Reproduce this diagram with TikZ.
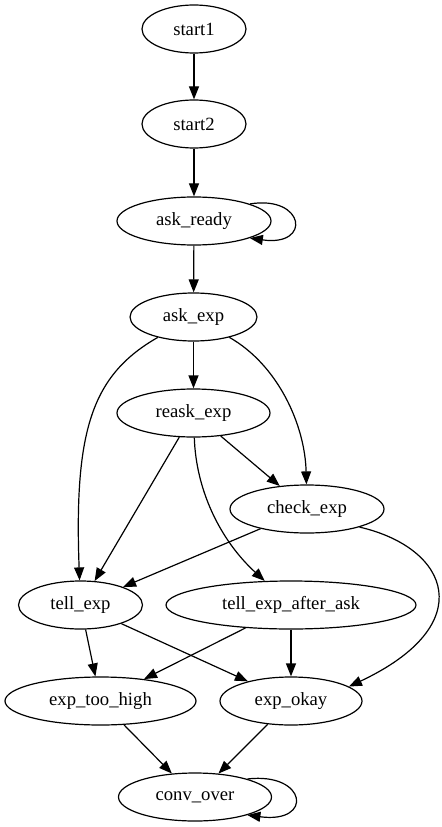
\documentclass[tikz,border=0pt]{standalone}
\usepackage{fontspec}
\setmainfont{Liberation Serif}
\usetikzlibrary{shapes.geometric,arrows.meta}
\begin{document}
\begin{tikzpicture}[x=0.75pt,y=-0.75pt,
  state/.style={ellipse,draw,line width=0.9pt,inner sep=0pt,minimum height=36pt,
    font=\fontsize{14pt}{16pt}\selectfont},
  edge/.style={line width=0.9pt,-{Triangle[length=9.75pt,width=7.5pt]}}]
\useasboundingbox (0,0) rectangle (442,827);
\node[state,minimum width=78pt]    (start1) at (194,29) {start1};
\node[state,minimum width=78pt]    (start2) at (194,124) {start2};
\node[state,minimum width=115.5pt] (ask_ready) at (194,221) {ask\_ready};
\node[state,minimum width=95.25pt] (ask_exp) at (193.5,317) {ask\_exp};
\node[state,minimum width=114.75pt] (reask_exp) at (193.5,413) {reask\_exp};
\node[state,minimum width=115.5pt] (check_exp) at (307,509) {check\_exp};
\node[state,minimum width=93pt]    (tell_exp) at (80.5,605) {tell\_exp};
\node[state,minimum width=187.5pt] (tell_exp_after_ask) at (291,605) {tell\_exp\_after\_ask};
\node[state,minimum width=143.25pt] (exp_too_high) at (100.5,701) {exp\_too\_high};
\node[state,minimum width=106.5pt] (exp_okay) at (291,701) {exp\_okay};
\node[state,minimum width=114.75pt] (conv_over) at (195,797) {conv\_over};

\draw[edge] (start1) -- (start2);
\draw[edge] (start2) -- (ask_ready);
\draw[edge] (ask_ready.17) .. controls (305,195) and (312,247) .. (ask_ready.-17);
\draw[edge] (ask_ready) -- (ask_exp);
\draw[edge] (ask_exp) -- (reask_exp);
\draw[edge] (ask_exp) .. controls (92,375) and (74,430) .. (tell_exp);
\draw[edge] (ask_exp) .. controls (278,365) and (305,425) .. (check_exp);
\draw[edge] (reask_exp) -- (tell_exp);
\draw[edge] (reask_exp) -- (check_exp);
\draw[edge] (reask_exp) .. controls (196,490) and (220,540) .. (tell_exp_after_ask);
\draw[edge] (check_exp) -- (tell_exp);
\draw[edge] (check_exp.-19) .. controls (450,548) and (480,625) .. (exp_okay.14);
\draw[edge] (tell_exp) -- (exp_too_high);
\draw[edge] (tell_exp) -- (exp_okay);
\draw[edge] (tell_exp_after_ask) -- (exp_too_high);
\draw[edge] (tell_exp_after_ask) -- (exp_okay);
\draw[edge] (exp_too_high) -- (conv_over);
\draw[edge] (exp_okay) -- (conv_over);
\draw[edge] (conv_over.19) .. controls (307,772) and (314,824) .. (conv_over.-19);
\end{tikzpicture}
\end{document}
